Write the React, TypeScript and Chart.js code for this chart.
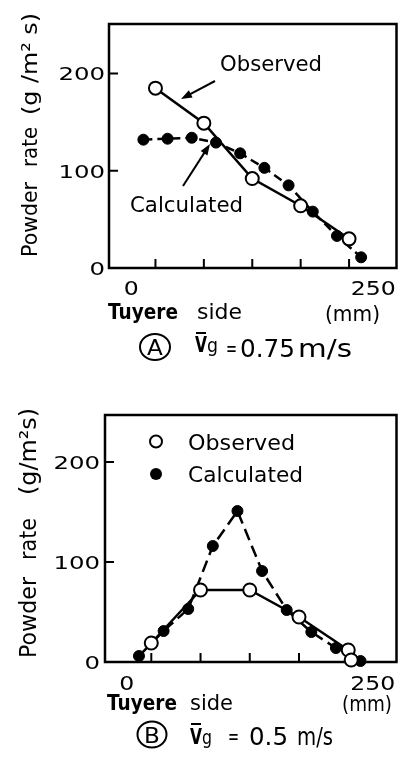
import React, { useEffect, useRef } from "react";
import { Chart, registerables } from "chart.js";
Chart.register(...registerables);

// ---- data ----
const A_OBS_X = [25, 75, 125, 175, 225];
const A_OBS_Y = [185, 149, 92, 64, 30];
const A_CALC_X = [12.5, 37.5, 62.5, 87.5, 112.5, 137.5, 162.5, 187.5, 212.5, 237.5];
const A_CALC_Y = [132, 133, 134, 129, 118, 103, 85, 58, 33, 11];

const B_OBS_X = [25, 75, 125, 175, 225, 228];
const B_OBS_Y = [19, 72, 72, 45, 12, 2];
const B_CALC_X = [12.5, 37.5, 62.5, 87.5, 112.5, 137.5, 162.5, 187.5, 212.5, 237.5];
const B_CALC_Y = [6, 31, 53, 116, 151, 91, 52, 30, 14, 1];

const Y_TICK_VALUES = [0, 100, 200];
const Y_TICK_MARKS = [100, 200];
const X_LABEL_VALUES = [0, 250];
const X_TICK_MARKS = [25, 75, 125, 175, 225];
const SERIES = ["Observed", "Calculated"];
const X_TITLE = ["Tuyere", "side", "(mm)"];
const Y_TITLE_A = ["Powder", "rate", "(g /m\u00B2 s)"];
const Y_TITLE_B = ["Powder", "rate", "(g/m\u00B2s)"];
const CAPTION_A = ["A", "V", "g", "=", "0.75", "m/s"];
const CAPTION_B = ["B", "V", "g", "=", "0.5", "m/s"];

const FONT = '"DejaVu Sans", sans-serif';

function drawText(ctx: CanvasRenderingContext2D, s: string, x: number, y: number, size: number, opt: any = {}) {
  ctx.save();
  ctx.font = `${opt.bold ? "bold " : ""}${size}px ${FONT}`;
  ctx.fillStyle = "#000";
  ctx.textBaseline = "alphabetic";
  ctx.textAlign = "left";
  const w0 = ctx.measureText(s).width;
  const sx = opt.width ? opt.width / w0 : opt.sx || 1;
  const w = w0 * sx;
  let left = x;
  if (opt.align === "center") left = x - w / 2;
  if (opt.align === "right") left = x - w;
  ctx.translate(left, y);
  ctx.scale(sx, 1);
  ctx.fillText(s, 0, 0);
  ctx.restore();
}

function drawRotText(ctx: CanvasRenderingContext2D, s: string, baseX: number, startY: number, size: number, len: number) {
  ctx.save();
  ctx.font = `${size}px ${FONT}`;
  ctx.fillStyle = "#000";
  ctx.textBaseline = "alphabetic";
  const w0 = ctx.measureText(s).width;
  ctx.translate(baseX, startY);
  ctx.rotate(-Math.PI / 2);
  ctx.scale(len / w0, 1);
  ctx.fillText(s, 0, 0);
  ctx.restore();
}

function arrow(ctx: CanvasRenderingContext2D, from: number[], to: number[]) {
  const [x0, y0] = from;
  const [x1, y1] = to;
  const ang = Math.atan2(y1 - y0, x1 - x0);
  const hl = 11, hw = 4;
  ctx.save();
  ctx.strokeStyle = "#000";
  ctx.fillStyle = "#000";
  ctx.lineWidth = 2;
  ctx.beginPath();
  ctx.moveTo(x0, y0);
  ctx.lineTo(x1 - Math.cos(ang) * hl * 0.8, y1 - Math.sin(ang) * hl * 0.8);
  ctx.stroke();
  ctx.beginPath();
  ctx.moveTo(x1, y1);
  ctx.lineTo(x1 - Math.cos(ang) * hl - Math.sin(ang) * hw, y1 - Math.sin(ang) * hl + Math.cos(ang) * hw);
  ctx.lineTo(x1 - Math.cos(ang) * hl + Math.sin(ang) * hw, y1 - Math.sin(ang) * hl - Math.cos(ang) * hw);
  ctx.closePath();
  ctx.fill();
  ctx.restore();
}

function makePlugin(cfg: any) {
  return {
    id: "deco" + cfg.key,
    beforeDatasetsDraw(chart: any) {
      const { ctx, chartArea: ca, scales } = chart;
      const x = scales.x, y = scales.y;
      ctx.save();
      ctx.strokeStyle = "#000";
      ctx.lineWidth = 2.5;
      ctx.strokeRect(ca.left, ca.top, ca.right - ca.left, ca.bottom - ca.top);
      ctx.lineWidth = 2;
      ctx.beginPath();
      for (const v of X_TICK_MARKS) {
        const px = x.getPixelForValue(v);
        ctx.moveTo(px, ca.bottom);
        ctx.lineTo(px, ca.bottom - cfg.tickLen);
      }
      for (const v of Y_TICK_MARKS) {
        const py = y.getPixelForValue(v);
        ctx.moveTo(ca.left, py);
        ctx.lineTo(ca.left + cfg.tickLen, py);
      }
      ctx.stroke();
      ctx.restore();
    },
    afterDraw(chart: any) {
      const { ctx, scales } = chart;
      const x = scales.x, y = scales.y;
      for (const v of Y_TICK_VALUES) {
        drawText(ctx, String(v), cfg.yLabelRight, y.getPixelForValue(v) + 6.8, 18.5, { sx: 1.32, align: "right" });
      }
      for (const v of X_LABEL_VALUES) {
        drawText(ctx, String(v), x.getPixelForValue(v), cfg.xLabelBase, 20, { sx: 1.18, align: "center" });
      }
      drawText(ctx, X_TITLE[0], cfg.tuyere[0], cfg.tuyere[2], 21, { bold: true, width: cfg.tuyere[1] });
      drawText(ctx, X_TITLE[1], cfg.side[0], cfg.tuyere[2], 21, { width: cfg.side[1] });
      drawText(ctx, X_TITLE[2], cfg.mm[0], cfg.mm[2], 21, { width: cfg.mm[1] });
      cfg.yTitle.parts.forEach((p: string, i: number) => {
        const [start, len] = cfg.yTitle.pos[i];
        drawRotText(ctx, p, cfg.yTitle.baseX, start, cfg.yTitle.size, len);
      });
      const cap = cfg.caption;
      ctx.save();
      ctx.lineWidth = 2;
      ctx.strokeStyle = "#000";
      ctx.beginPath();
      ctx.ellipse(cap.cx, cap.cy, cap.rx, cap.ry, 0, 0, Math.PI * 2);
      ctx.stroke();
      ctx.restore();
      drawText(ctx, cap.text[0], cap.cx, cap.cy + 8, 22, { align: "center", sx: 1.05 });
      drawText(ctx, cap.text[1], cap.v[0], cap.vBase, cap.vSize, { bold: true, width: cap.v[1] });
      ctx.save();
      ctx.strokeStyle = "#000";
      ctx.lineWidth = 2;
      ctx.beginPath();
      ctx.moveTo(cap.v[0] + 1, cap.bar);
      ctx.lineTo(cap.v[0] + cap.v[1] - 1, cap.bar);
      ctx.stroke();
      ctx.restore();
      drawText(ctx, cap.text[2], cap.g[0], cap.vBase, 19, { width: cap.g[1] });
      drawText(ctx, cap.text[3], cap.eq[0], cap.base - 1, 22, { width: cap.eq[1] });
      drawText(ctx, cap.text[4], cap.num[0], cap.base, 25, { width: cap.num[1] });
      drawText(ctx, cap.text[5], cap.unit[0], cap.base, 25, { width: cap.unit[1] });
      if (cfg.annot) {
        drawText(ctx, SERIES[0], cfg.annot.obs[0], cfg.annot.obs[2], 21, { width: cfg.annot.obs[1] });
        drawText(ctx, SERIES[1], cfg.annot.calc[0], cfg.annot.calc[2], 21, { width: cfg.annot.calc[1] });
        for (const a of cfg.annot.arrows) arrow(ctx, a[0], a[1]);
      }
      if (cfg.legend) {
        const L = cfg.legend;
        ctx.save();
        ctx.lineWidth = 2;
        ctx.strokeStyle = "#000";
        ctx.fillStyle = "#fff";
        ctx.beginPath();
        ctx.arc(L.mx, L.rows[0][2], 6, 0, Math.PI * 2);
        ctx.fill();
        ctx.stroke();
        ctx.fillStyle = "#000";
        ctx.beginPath();
        ctx.arc(L.mx, L.rows[1][2], 6, 0, Math.PI * 2);
        ctx.fill();
        ctx.restore();
        drawText(ctx, SERIES[0], L.tx, L.rows[0][0], 22, { width: L.rows[0][1] });
        drawText(ctx, SERIES[1], L.tx, L.rows[1][0], 22, { width: L.rows[1][1] });
      }
    },
  };
}

const CFG_A = {
  key: "A",
  obsX: A_OBS_X, obsY: A_OBS_Y, calcX: A_CALC_X, calcY: A_CALC_Y,
  xMin: -23, xMax: 274, yMax: 251,
  padding: { left: 109, right: 3, top: 24, bottom: 112 },
  dash: [9, 5],
  tickLen: 9,
  yLabelRight: 105,
  xLabelBase: 295,
  tuyere: [108, 70, 319], side: [197, 45], mm: [325, 55, 321],
  yTitle: { parts: Y_TITLE_A, baseX: 37, size: 21, pos: [[257, 75], [167, 40], [115, 102]] },
  caption: { text: CAPTION_A, cx: 155, cy: 347, rx: 15, ry: 13, base: 357, vBase: 352, vSize: 21, bar: 333, v: [195, 12], g: [207, 11], eq: [226, 11], num: [240, 55], unit: [298, 54] },
  annot: {
    obs: [220, 102, 71],
    calc: [130, 113, 212],
    arrows: [[[215, 81], [181, 99]], [[183, 186], [210, 144]]],
  },
};

const CFG_B = {
  key: "B",
  obsX: B_OBS_X, obsY: B_OBS_Y, calcX: B_CALC_X, calcY: B_CALC_Y,
  xMin: -22, xMax: 274, yMax: 247,
  padding: { left: 105, right: 4, top: 35, bottom: 98 },
  dash: [12, 6],
  tickLen: 9,
  yLabelRight: 100,
  xLabelBase: 310,
  tuyere: [107, 70, 330], side: [190, 43], mm: [342, 50, 331],
  yTitle: { parts: Y_TITLE_B, baseX: 36, size: 23, pos: [[278, 81], [180, 42], [115, 87]] },
  caption: { text: CAPTION_B, cx: 152, cy: 354.5, rx: 14.5, ry: 13, base: 365, vBase: 364, vSize: 22, bar: 344, v: [190, 12], g: [202, 10], eq: [228, 11], num: [249, 39], unit: [297, 36] },
  legend: { mx: 156, tx: 188, rows: [[70, 107, 61.5], [102, 115, 94]] },
};

function Panel({ cfg, top }: { cfg: any; top: number }) {
  const ref = useRef<HTMLCanvasElement>(null);
  useEffect(() => {
    if (!ref.current) return;
    const chart = new Chart(ref.current, {
      type: "line",
      data: {
        datasets: [
          {
            label: SERIES[0],
            data: cfg.obsX.map((v: number, i: number) => ({ x: v, y: cfg.obsY[i] })),
            borderColor: "#000",
            borderWidth: 2.5,
            pointRadius: 6.5,
            pointBorderWidth: 2,
            pointBackgroundColor: "#fff",
            pointBorderColor: "#000",
            tension: 0,
            clip: false as any,
          },
          {
            label: SERIES[1],
            data: cfg.calcX.map((v: number, i: number) => ({ x: v, y: cfg.calcY[i] })),
            borderColor: "#000",
            borderWidth: 2.5,
            borderDash: cfg.dash,
            pointRadius: 5.5,
            pointBorderWidth: 1,
            pointBackgroundColor: "#000",
            pointBorderColor: "#000",
            tension: 0,
            clip: false as any,
          },
        ],
      },
      options: {
        responsive: false,
        animation: false,
        layout: { padding: cfg.padding },
        plugins: { legend: { display: false }, tooltip: { enabled: false } },
        scales: {
          x: { type: "linear", min: cfg.xMin, max: cfg.xMax, display: false },
          y: { type: "linear", min: 0, max: cfg.yMax, display: false },
        },
      },
      plugins: [makePlugin(cfg)],
    });
    return () => chart.destroy();
  }, []);
  return (
    <canvas
      ref={ref}
      width={405}
      height={380}
      style={{ position: "absolute", left: 0, top, width: 405, height: 380 }}
    />
  );
}

export default function App() {
  return (
    <div style={{ position: "absolute", left: 0, top: 0, width: 405, height: 760, background: "#fff" }}>
      <Panel cfg={CFG_A} top={0} />
      <Panel cfg={CFG_B} top={380} />
    </div>
  );
}
